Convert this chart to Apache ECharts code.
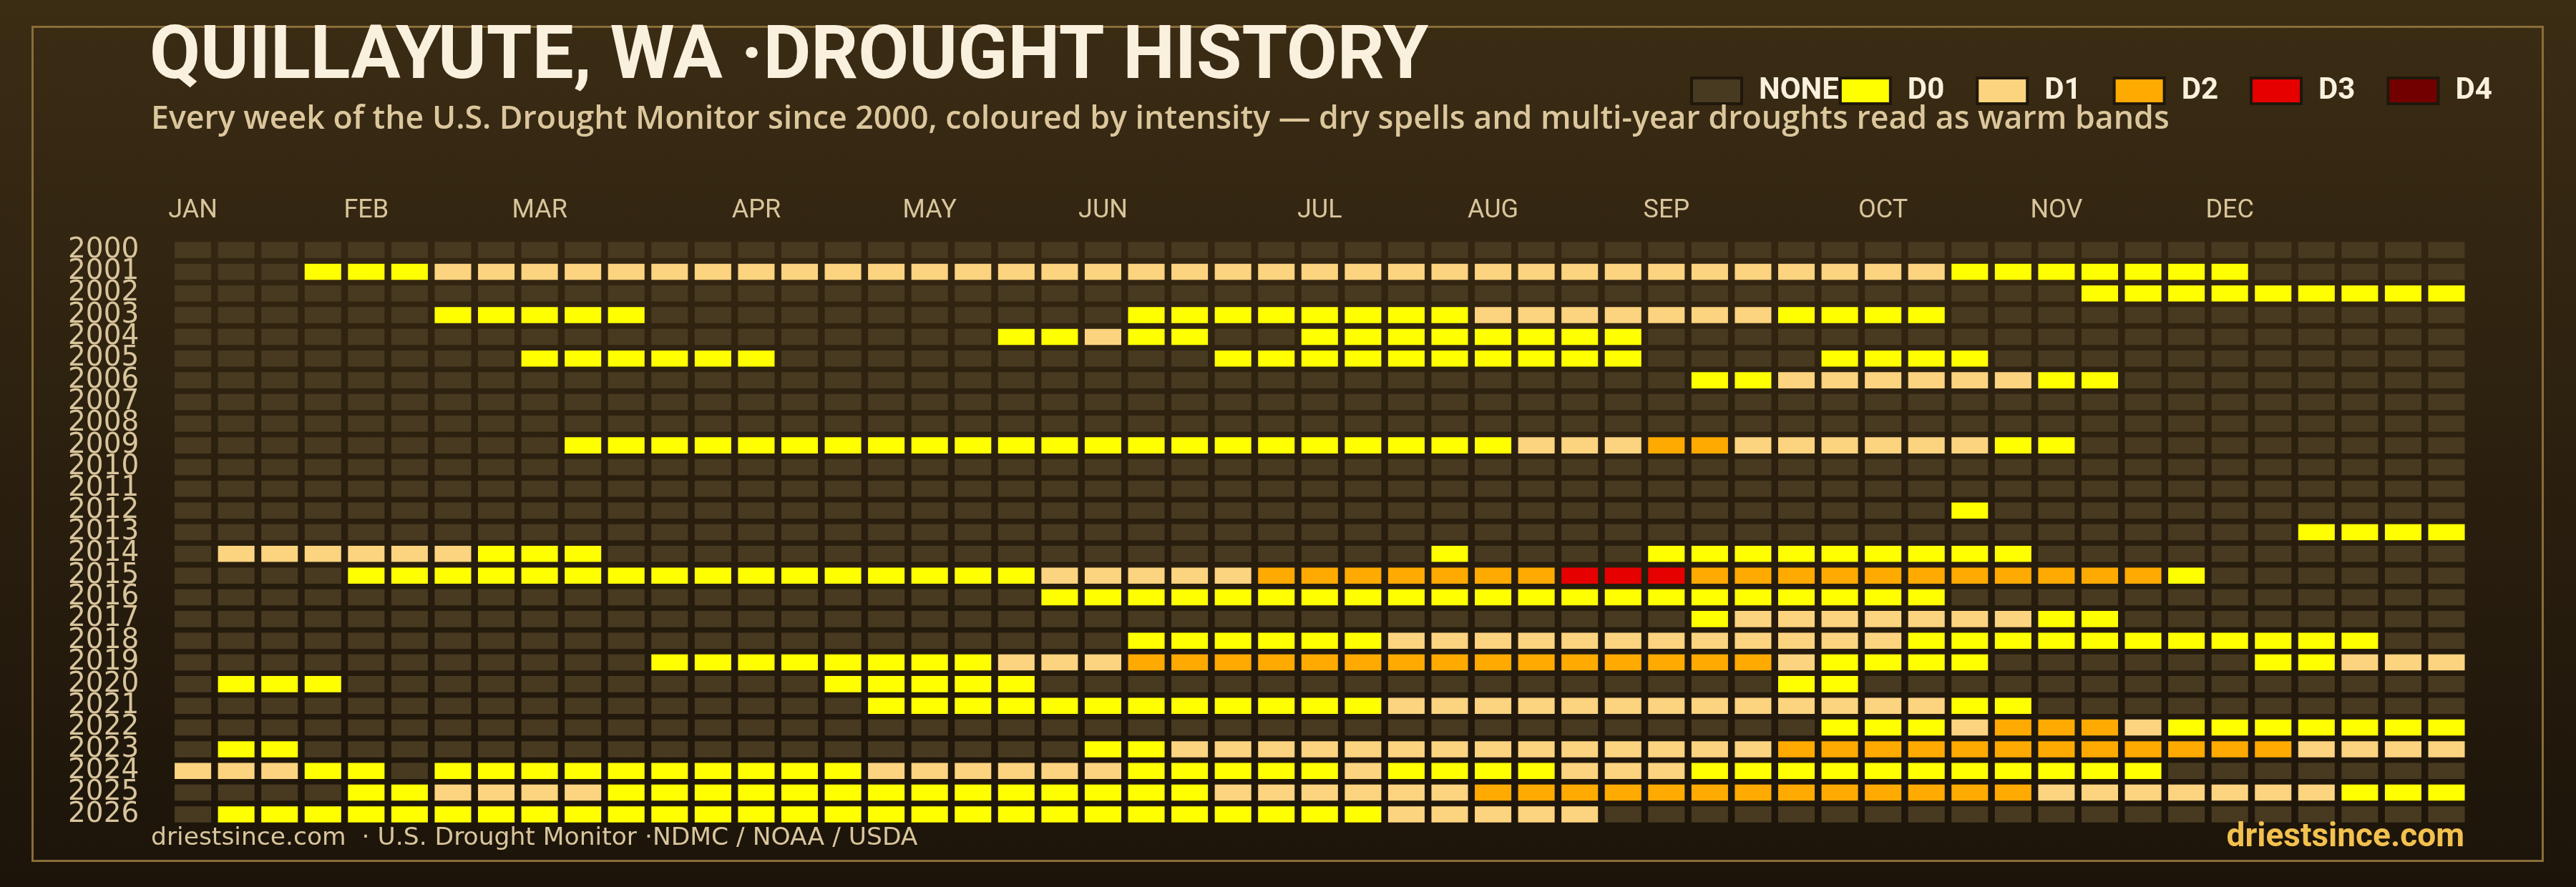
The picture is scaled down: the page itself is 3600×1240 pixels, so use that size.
<!DOCTYPE html>
<html><head><meta charset="utf-8">
<script src="https://cdn.jsdelivr.net/npm/echarts@6/dist/echarts.min.js"></script>
<style>html,body{margin:0;padding:0;background:#2b2010;}#c{width:3600px;height:1240px;}</style>
</head><body><div id="c"></div>
<script>
// ---- data ----
const years = ['2000','2001','2002','2003','2004','2005','2006','2007','2008','2009','2010','2011','2012','2013',
  '2014','2015','2016','2017','2018','2019','2020','2021','2022','2023','2024','2025','2026'];
const monthLabels = ['JAN','FEB','MAR','APR','MAY','JUN','JUL','AUG','SEP','OCT','NOV','DEC'];
const monthStartWeeks = [0,4,8,13,17,21,26,30,34,39,43,47];
const levelNames = ['NONE','D0','D1','D2','D3','D4'];
const levelColors = ['#483a20','#ffff00','#fcd37f','#ffaa00','#e60000','#730000'];
// one string per year, 53 weeks: '-' = none, '0'..'4' = D0..D4 (spaces split every 10 weeks)
const weeklyLevels = [
  "---------- ---------- ---------- ---------- ---------- ---", // 2000
  "---0001111 1111111111 1111111111 1111111111 10000000-- ---", // 2001
  "---------- ---------- ---------- ---------- ----000000 000", // 2002
  "------0000 0--------- --00000000 1111111000 0--------- ---", // 2003
  "---------- ---------0 0100--0000 0000------ ---------- ---", // 2004
  "--------00 0000------ ----000000 0000----00 00-------- ---", // 2005
  "---------- ---------- ---------- -----00111 11100----- ---", // 2006
  "---------- ---------- ---------- ---------- ---------- ---", // 2007
  "---------- ---------- ---------- ---------- ---------- ---", // 2008
  "---------0 0000000000 0000000000 0111221111 1100------ ---", // 2009
  "---------- ---------- ---------- ---------- ---------- ---", // 2010
  "---------- ---------- ---------- ---------- ---------- ---", // 2011
  "---------- ---------- ---------- ---------- -0-------- ---", // 2012
  "---------- ---------- ---------- ---------- ---------0 000", // 2013
  "-111111000 ---------- ---------0 ----000000 000------- ---", // 2014
  "----000000 0000000000 1111122222 2233322222 2222220--- ---", // 2015
  "---------- ---------- 0000000000 0000000000 0--------- ---", // 2016
  "---------- ---------- ---------- -----01111 11100----- ---", // 2017
  "---------- ---------- --00000011 1111111111 0000000000 0--", // 2018
  "---------- -000000001 1122222222 2222222100 00------00 111", // 2019
  "-000------ -----00000 ---------- -------00- ---------- ---", // 2020
  "---------- ------0000 0000000011 1111111111 100------- ---", // 2021
  "---------- ---------- ---------- --------00 0122210000 000", // 2022
  "-00------- ---------- -001111111 1111111222 2222222221 111", // 2023
  "11100-0000 0000001111 1100000100 0011100000 000000---- ---", // 2024
  "----001111 0000000000 0000111111 2222222222 2221111111 000", // 2025
  "-000000000 0000000000 0000000011 111------- ---------- ---"  // 2026
];
const titleText = 'QUILLAYUTE, WA ·DROUGHT HISTORY';
const subtitleText = 'Every week of the U.S. Drought Monitor since 2000, coloured by intensity — dry spells and multi-year droughts read as warm bands';
const footerLeftText = 'driestsince.com  · U.S. Drought Monitor ·NDMC / NOAA / USDA';
const footerRightText = 'driestsince.com';

// ---- build ----
const WEEKS = 53;
const weekCats = [];
for (let i = 0; i < WEEKS; i++) weekCats.push(String(i));
const seriesData = levelNames.map(() => []);
weeklyLevels.forEach((s, yi) => {
  const str = s.replace(/ /g, '');
  if (str.length !== WEEKS) throw new Error('bad length for ' + years[yi] + ': ' + str.length);
  for (let w = 0; w < WEEKS; w++) {
    const ch = str[w];
    const lvl = ch === '-' ? 0 : (parseInt(ch, 10) + 1);
    seriesData[lvl].push([w, yi]);
  }
});

const FONT = 'Roboto';
const FONT2 = 'Open Sans';
const chart = echarts.init(document.getElementById('c'), null, {renderer: 'canvas'});

function renderCell(params, api) {
  const c = api.coord([api.value(0), api.value(1)]);
  const s = api.size([1, 1]);
  const w = s[0] - 9.5, h = s[1] - 7.8;
  return { type: 'rect', shape: { x: c[0] - w / 2, y: c[1] - h / 2, width: w, height: h }, style: api.style() };
}

const legendText = { color: '#f9f1dd', fontFamily: FONT, fontWeight: 'bold', fontSize: 42,
  backgroundColor: 'rgba(0,0,0,0)' };

const option = {
  animation: false,
  backgroundColor: { type: 'linear', x: 0, y: 0, x2: 0, y2: 1,
    colorStops: [{offset: 0, color: '#3b2c14'}, {offset: 1, color: '#1c140a'}] },
  graphic: [{
    type: 'rect', z: 0, silent: true,
    shape: { x: 45.5, y: 37.5, width: 3508, height: 1166 },
    style: { fill: 'none', stroke: '#8a6d38', lineWidth: 3 }
  }],
  title: [
    { text: titleText, left: 209, top: 32, padding: 0, z: 10,
      textStyle: { fontFamily: FONT, fontWeight: 'bold', fontSize: 103, color: '#f9f1dd' } },
    { text: subtitleText, left: 211, top: 145, padding: 0,
      textStyle: { fontFamily: FONT2, fontWeight: 600, fontSize: 44.7, color: '#dcc79d' } },
    { text: footerLeftText, left: 211, top: 1155, padding: 0,
      textStyle: { fontFamily: 'DejaVu Sans', fontWeight: 'normal', fontSize: 34.5, color: '#d9c59c' } },
    { text: footerRightText, right: 156, top: 1148, padding: 0,
      textStyle: { fontFamily: FONT, fontWeight: 'bold', fontSize: 46, color: '#f2c14e' } }
  ],
  legend: {
    data: levelNames.map(n => ({
      name: n, icon: 'rect',
      textStyle: Object.assign({ padding: n === 'NONE' ? [0, 0, 0, 19] : [0, 44, 0, 19] }, legendText)
    })),
    left: 2362, top: 106, padding: 0, itemGap: 0,
    itemWidth: 70, itemHeight: 36, selectedMode: false,
    itemStyle: { borderColor: '#1f170b', borderWidth: 4 },
    textStyle: legendText
  },
  grid: { left: 239.3, right: 150.7, top: 334.4, bottom: 86.4, containLabel: false },
  xAxis: {
    type: 'category', data: weekCats, position: 'top',
    axisLine: { show: false }, axisTick: { show: false }, splitLine: { show: false },
    axisLabel: {
      interval: 0, margin: 21, color: '#d9c59c', fontFamily: FONT, fontSize: 36,
      formatter: (v, idx) => { const k = monthStartWeeks.indexOf(idx); return k >= 0 ? monthLabels[k] : ''; }
    }
  },
  yAxis: {
    type: 'category', data: years, inverse: true,
    axisLine: { show: false }, axisTick: { show: false }, splitLine: { show: false },
    axisLabel: { interval: 0, margin: 45, color: '#d9c59c', fontFamily: 'DejaVu Sans', fontSize: 39 }
  },
  series: levelNames.map((n, i) => ({
    name: n, type: 'custom', coordinateSystem: 'cartesian2d',
    renderItem: renderCell, encode: { x: 0, y: 1 },
    itemStyle: { color: levelColors[i] },
    data: seriesData[i]
  }))
};
chart.setOption(option);
</script>
</body></html>
